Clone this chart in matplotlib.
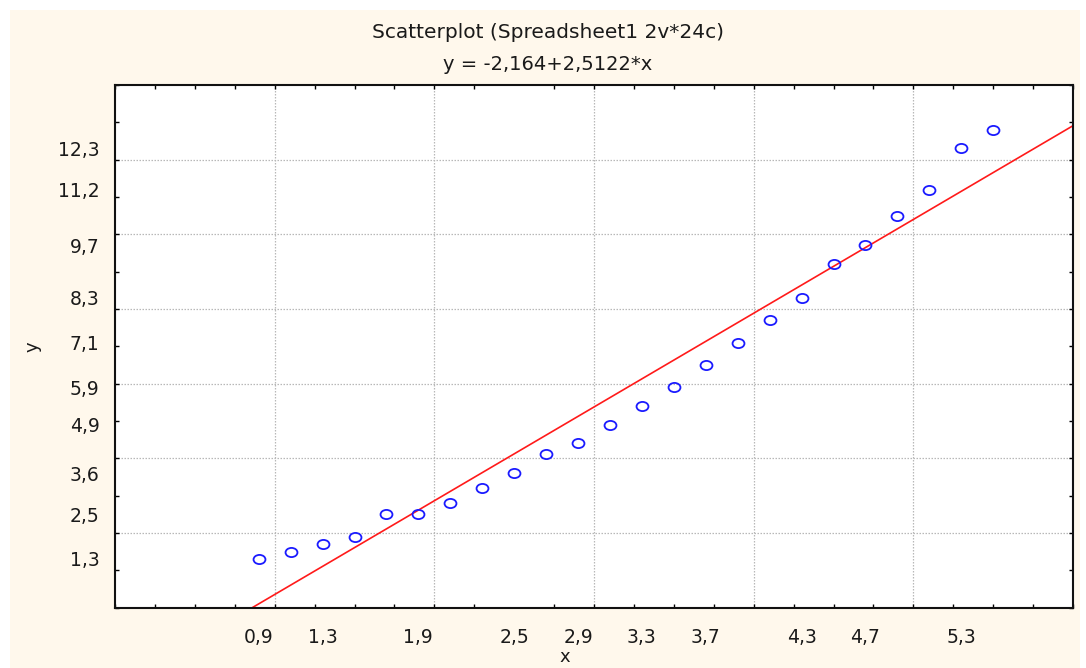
import matplotlib
matplotlib.use("Agg")
import matplotlib.pyplot as plt
from matplotlib.markers import MarkerStyle
from matplotlib.transforms import Affine2D
from matplotlib.patches import Rectangle
from matplotlib.ticker import FixedLocator, MultipleLocator
import numpy as np

# Observations (24 cases)
x_values = [0.9, 1.1, 1.3, 1.5, 1.7, 1.9, 2.1, 2.3, 2.5, 2.7, 2.9, 3.1,
            3.3, 3.5, 3.7, 3.9, 4.1, 4.3, 4.5, 4.7, 4.9, 5.1, 5.3, 5.5]
y_values = [1.3, 1.5, 1.7, 1.9, 2.5, 2.5, 2.8, 3.2, 3.6, 4.1, 4.4, 4.9,
            5.4, 5.9, 6.5, 7.1, 7.7, 8.3, 9.2, 9.7, 10.5, 11.2, 12.3, 12.8]

# Fitted line y = a + b*x
intercept = -2.164
slope = 2.5122

# Labelled tick positions
x_tick_labels = [0.9, 1.3, 1.9, 2.5, 2.9, 3.3, 3.7, 4.3, 4.7, 5.3]
y_tick_labels = [1.3, 2.5, 3.6, 4.9, 5.9, 7.1, 8.3, 9.7, 11.2, 12.3]

# Grid positions
x_grid = [1, 2, 3, 4, 5]
y_grid = [2, 4, 6, 8, 10, 12]

x_range = (0, 6)
y_range = (0, 14)

W, H = 1086, 668
fig = plt.figure(figsize=(W / 100, H / 100), dpi=100, facecolor="white")
fig.patches.append(Rectangle((10 / W, 0), (1080 - 10) / W, (H - 10) / H,
                             transform=fig.transFigure, facecolor="#fff8ec",
                             edgecolor="none", zorder=-10))

ax = fig.add_axes([115 / W, (H - 607.5) / H, (1073 - 115) / W, (607.5 - 85) / H])
ax.set_facecolor("white")
ax.set_xlim(*x_range)
ax.set_ylim(*y_range)

for gx in x_grid:
    ax.axvline(gx, color="#b8b8b8", lw=0.9, ls=(0, (1.2, 1.2)), zorder=0)
for gy in y_grid:
    ax.axhline(gy, color="#b8b8b8", lw=0.9, ls=(0, (1.2, 1.2)), zorder=0)

# Regression line across the full x range
xl = np.array(x_range, dtype=float)
ax.plot(xl, intercept + slope * xl, color="#ff1a1a", lw=1.2, zorder=2)

# Open, slightly flattened circles for the observations
marker = MarkerStyle("o", transform=Affine2D().scale(1.3, 1.0))
ax.plot(x_values, y_values, ls="none", marker=marker, markersize=6.6,
        markerfacecolor="none", markeredgecolor="#1a1aff",
        markeredgewidth=1.3, zorder=3)

# Labels at data values, tick marks on a regular grid
fmt = lambda v: f"{v:.1f}".replace(".", ",")
ax.xaxis.set_major_locator(FixedLocator(x_tick_labels))
ax.set_xticklabels([fmt(v) for v in x_tick_labels])
ax.yaxis.set_major_locator(FixedLocator(y_tick_labels))
ax.set_yticklabels([fmt(v) for v in y_tick_labels])
ax.xaxis.set_minor_locator(MultipleLocator(0.25))
ax.yaxis.set_minor_locator(MultipleLocator(1))
ax.tick_params(which="major", length=0, labelsize=13.5, colors="#1a1a1a")
ax.tick_params(axis="x", which="major", pad=15)
ax.tick_params(axis="y", which="major", pad=11)
ax.tick_params(which="minor", direction="in", length=3, width=1.0,
               top=True, right=True, color="black")

for s in ax.spines.values():
    s.set_linewidth(1.5)
    s.set_color("#111111")

ax.set_xlabel("x", fontsize=13, color="#1a1a1a", va="top")
ax.xaxis.set_label_coords((565 - 115) / 958, -(648 - 607.5) / 522.5)
ax.set_ylabel("y", fontsize=13, labelpad=12, color="#1a1a1a")

fig.text(548 / W, 1 - 32 / H, "Scatterplot (Spreadsheet1 2v*24c)",
         ha="center", va="center", fontsize=14.5, color="#1a1a1a")
fig.text(548 / W, 1 - 64 / H, "y = -2,164+2,5122*x",
         ha="center", va="center", fontsize=14, color="#1a1a1a")

fig.savefig("out.png", dpi=100, facecolor=fig.get_facecolor())
